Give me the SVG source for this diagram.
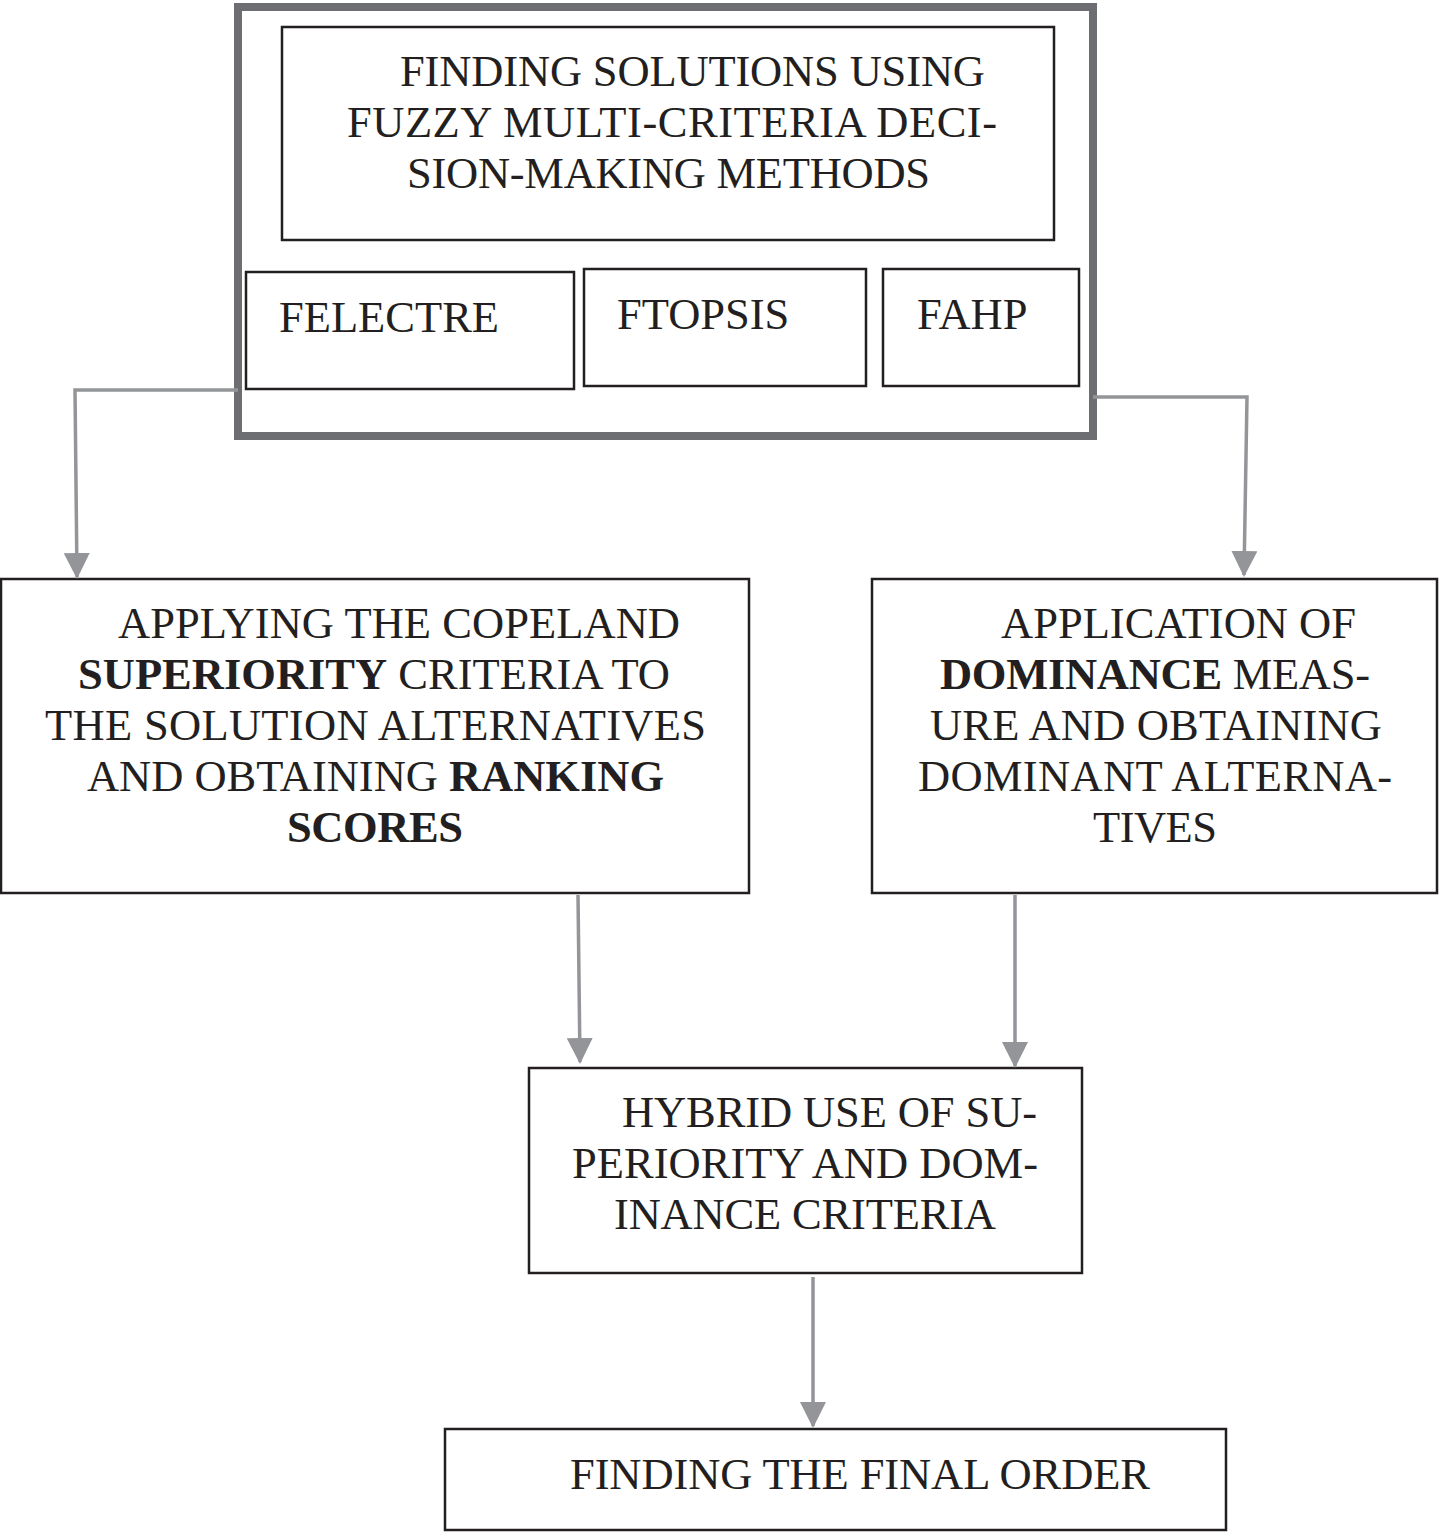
<svg xmlns="http://www.w3.org/2000/svg" width="1439" height="1533" viewBox="0 0 1439 1533">
<defs>
<style>
.box{fill:#fff;stroke:#231f20;stroke-width:2.5}
.outer{fill:#fff;stroke:#6d6e71;stroke-width:8}
.t{font-family:"Liberation Serif","Times New Roman",serif;font-size:44.5px;fill:#231f20}
.b{font-weight:bold}
.con{fill:none;stroke:#939598;stroke-width:3.5}
</style>
<marker id="arr" viewBox="0 0 26 26" refX="24" refY="13" markerWidth="26" markerHeight="26" markerUnits="userSpaceOnUse" orient="auto">
<path d="M0,0 L26,13 L0,26 Z" fill="#939598"/>
</marker>
</defs>
<rect width="1439" height="1533" fill="#fff"/>
<g id="methods-group">
<rect class="outer" x="238" y="7" width="855" height="429"/>
<g id="title-node">
<rect class="box" x="282" y="27" width="772" height="213"/>
<text class="t" x="400" y="86" textLength="585">FINDING SOLUTIONS USING</text>
<text class="t" x="347" y="137" textLength="650">FUZZY MULTI-CRITERIA DECI-</text>
<text class="t" x="407" y="188" textLength="523">SION-MAKING METHODS</text>
</g>
<g id="felectre">
<rect class="box" x="246" y="272" width="328" height="117"/>
<text class="t" x="279" y="332">FELECTRE</text>
</g>
<g id="ftopsis">
<rect class="box" x="584" y="269" width="282" height="117"/>
<text class="t" x="617" y="329">FTOPSIS</text>
</g>
<g id="fahp">
<rect class="box" x="883" y="269" width="196" height="117"/>
<text class="t" x="917" y="329">FAHP</text>
</g>
</g>
<g id="copeland">
<rect class="box" x="1" y="579" width="748" height="314"/>
<text class="t" x="118" y="638" textLength="562">APPLYING THE COPELAND</text>
<text class="t" x="78" y="689" textLength="592"><tspan class="b">SUPERIORITY</tspan> CRITERIA TO</text>
<text class="t" x="45" y="740" textLength="661">THE SOLUTION ALTERNATIVES</text>
<text class="t" x="87" y="791" textLength="577">AND OBTAINING <tspan class="b">RANKING</tspan></text>
<text class="t b" x="287" y="842" textLength="176">SCORES</text>
</g>
<g id="dominance">
<rect class="box" x="872" y="579" width="565" height="314"/>
<text class="t" x="1001" y="638" textLength="355">APPLICATION OF</text>
<text class="t" x="940" y="689" textLength="430"><tspan class="b">DOMINANCE</tspan> MEAS-</text>
<text class="t" x="930" y="740" textLength="452">URE AND OBTAINING</text>
<text class="t" x="918" y="791" textLength="474">DOMINANT ALTERNA-</text>
<text class="t" x="1093" y="842" textLength="124">TIVES</text>
</g>
<g id="hybrid">
<rect class="box" x="529" y="1068" width="553" height="205"/>
<text class="t" x="622" y="1127" textLength="415">HYBRID USE OF SU-</text>
<text class="t" x="572" y="1178" textLength="466">PERIORITY AND DOM-</text>
<text class="t" x="614" y="1229" textLength="382">INANCE CRITERIA</text>
</g>
<g id="final">
<rect class="box" x="445" y="1429" width="781" height="101"/>
<text class="t" x="570" y="1489" textLength="580">FINDING THE FINAL ORDER</text>
</g>
<g id="connectors">
<path class="con" d="M238,390 L75,390 L77,577" marker-end="url(#arr)"/>
<path class="con" d="M1093,397 L1247,397 L1244,575" marker-end="url(#arr)"/>
<path class="con" d="M578,895 L580,1062" marker-end="url(#arr)"/>
<path class="con" d="M1015,895 L1015,1066" marker-end="url(#arr)"/>
<path class="con" d="M813,1277 L813,1426" marker-end="url(#arr)"/>
</g>
</svg>
